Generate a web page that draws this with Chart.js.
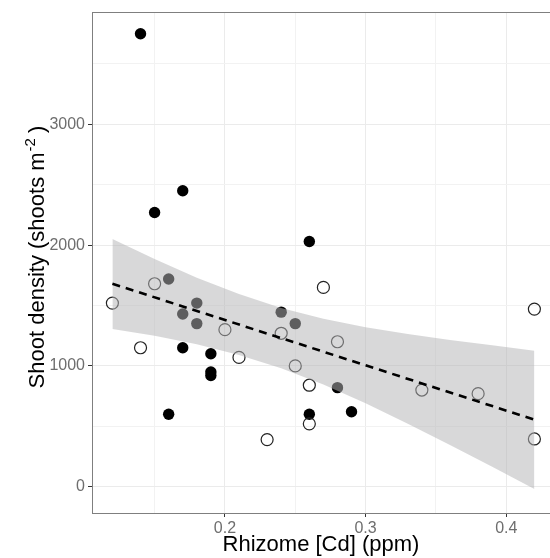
<!DOCTYPE html>
<html>
<head>
<meta charset="utf-8">
<script src="https://cdn.jsdelivr.net/npm/chart.js@4"></script>
<style>
  body { margin: 0; background: #fff; }
  #wrap { width: 550px; height: 558px; }
</style>
</head>
<body>
<div id="wrap"><canvas id="myChart"></canvas></div>
<script>
  // filled (black) samples
  const filledX = [0.14, 0.15, 0.17, 0.26, 0.24, 0.16, 0.18, 0.17, 0.18, 0.25, 0.17, 0.19, 0.19, 0.19, 0.16, 0.26, 0.28, 0.29];
  const filledY = [3750, 2270, 2450, 2030, 1445, 1720, 1520, 1430, 1350, 1350, 1150, 1100, 950, 920, 600, 600, 820, 620];
  // open samples
  const openX = [0.12, 0.15, 0.14, 0.20, 0.21, 0.24, 0.27, 0.28, 0.25, 0.26, 0.26, 0.23, 0.34, 0.38, 0.42, 0.42];
  const openY = [1520, 1680, 1150, 1300, 1070, 1270, 1650, 1200, 1000, 840, 520, 390, 800, 770, 1470, 395];
  // fitted line + confidence band
  const fitX = [0.12, 0.42];
  const fitY = [1680, 555];
  const bandX = [0.12, 0.15, 0.18, 0.21, 0.24, 0.27, 0.30, 0.33, 0.36, 0.39, 0.42];
  const bandUpper = [2050, 1885, 1730, 1595, 1480, 1390, 1320, 1265, 1215, 1170, 1125];
  const bandLower = [1305, 1250, 1180, 1090, 980, 845, 690, 520, 345, 165, -20];

  const xTicks = [0.15, 0.2, 0.25, 0.3, 0.35, 0.4];
  const yTicks = [0, 500, 1000, 1500, 2000, 2500, 3000, 3500];

  const pts = (xs, ys) => xs.map((x, i) => ({x: x, y: ys[i]}));
  const isMajorX = v => Math.abs(v * 10 - Math.round(v * 10)) < 1e-6;
  const isMajorY = v => v % 1000 === 0;
  const FONT = '"Liberation Sans", Arial, sans-serif';

  // top panel border + y title with a real superscript
  const extras = {
    id: 'extras',
    afterDraw(chart) {
      const {ctx, chartArea} = chart;
      ctx.save();
      ctx.strokeStyle = '#7f7f7f';
      ctx.lineWidth = 1;
      ctx.beginPath();
      ctx.moveTo(chartArea.left, chartArea.top + 0.5);
      ctx.lineTo(chartArea.right, chartArea.top + 0.5);
      ctx.stroke();

      const main = '22px ' + FONT, sup = '15px ' + FONT;
      const a = 'Shoot density (shoots m', b = '-2', c = ' )';
      ctx.font = main;
      const wa = ctx.measureText(a).width, wc = ctx.measureText(c).width;
      ctx.font = sup;
      const wb = ctx.measureText(b).width;
      const w = wa + wb + wc;
      ctx.translate(44, 257 + w / 2);
      ctx.rotate(-Math.PI / 2);
      ctx.fillStyle = '#000';
      ctx.textBaseline = 'alphabetic';
      ctx.font = main;
      ctx.fillText(a, 0, 0);
      ctx.font = sup;
      ctx.fillText(b, wa + 1, -9);
      ctx.font = main;
      ctx.fillText(c, wa + wb, 0);
      ctx.restore();
    }
  };

  const data = {
    datasets: [{
      label: 'fit',
      data: pts(fitX, fitY),
      borderColor: '#000',
      borderWidth: 2.6,
      borderDash: [8, 6],
      pointRadius: 0,
      fill: false,
    }, {
      label: 'upper',
      data: pts(bandX, bandUpper),
      borderWidth: 0,
      pointRadius: 0,
      backgroundColor: 'rgba(180,180,183,0.52)',
      fill: '+1',
    }, {
      label: 'lower',
      data: pts(bandX, bandLower),
      borderWidth: 0,
      pointRadius: 0,
      fill: false,
    }, {
      label: 'open',
      data: pts(openX, openY),
      showLine: false,
      pointRadius: 6,
      pointBorderWidth: 1.2,
      pointBorderColor: '#222',
      pointBackgroundColor: 'rgba(255,255,255,0)',
    }, {
      label: 'filled',
      data: pts(filledX, filledY),
      showLine: false,
      pointRadius: 5.7,
      pointBorderWidth: 0,
      pointBackgroundColor: '#000',
    }]
  };

  const tickFont = {family: FONT, size: 16};

  const config = {
    type: 'line',
    data,
    plugins: [extras],
    options: {
      responsive: true,
      maintainAspectRatio: false,
      animation: false,
      layout: {autoPadding: false, padding: {top: 12, right: 0, bottom: 0, left: 0}},
      plugins: {
        legend: {display: false},
        tooltip: {enabled: false},
      },
      scales: {
        x: {
          type: 'linear',
          min: 0.1055,
          max: 0.4311,
          afterBuildTicks: s => { s.ticks = xTicks.map(v => ({value: v})); },
          afterFit: s => { s.height = 45; s.paddingLeft = 0; s.paddingRight = 0; },
          ticks: {
            color: '#6e6e6e',
            font: tickFont,
            padding: 2,
            maxRotation: 0,
            callback: v => isMajorX(v) ? v.toFixed(1) : '',
          },
          grid: {
            color: ctx => isMajorX(ctx.tick.value) ? '#ebebeb' : '#f2f2f2',
            tickColor: ctx => isMajorX(ctx.tick.value) ? '#333' : 'rgba(0,0,0,0)',
            tickLength: 4,
          },
          border: {color: '#7f7f7f', width: 1},
          title: {
            display: true,
            text: 'Rhizome [Cd] (ppm)',
            color: '#000',
            font: {family: FONT, size: 22},
            padding: {top: -2, bottom: 0},
          },
        },
        y: {
          min: -218,
          max: 3930,
          afterBuildTicks: s => { s.ticks = yTicks.map(v => ({value: v})); },
          afterFit: s => { s.width = 92; s.paddingTop = 0; s.paddingBottom = 0; },
          ticks: {
            color: '#6e6e6e',
            font: tickFont,
            padding: 3,
            callback: v => isMajorY(v) ? String(v) : '',
          },
          grid: {
            color: ctx => isMajorY(ctx.tick.value) ? '#ebebeb' : '#f2f2f2',
            tickColor: ctx => isMajorY(ctx.tick.value) ? '#333' : 'rgba(0,0,0,0)',
            tickLength: 4,
          },
          border: {color: '#7f7f7f', width: 1},
        }
      }
    }
  };

  var myChart = new Chart(document.getElementById('myChart'), config);
</script>
</body>
</html>
